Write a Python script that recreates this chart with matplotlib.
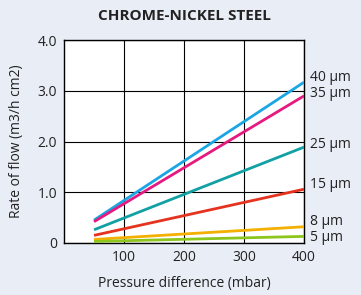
import matplotlib.pyplot as plt

plt.rcParams['font.family'] = ['Open Sans', 'DejaVu Sans']

pressure = [50, 400]
labels = ['40 µm', '35 µm', '25 µm', '15 µm', '8 µm', '5 µm']
flows = [
    [0.45, 3.17],
    [0.42, 2.90],
    [0.26, 1.89],
    [0.15, 1.06],
    [0.07, 0.32],
    [0.03, 0.13],
]
colors = ['#1ba6e3', '#e5197f', '#11a0a3', '#e5331f', '#f4b000', '#8cc51c']
label_y = [3.27, 2.95, 1.95, 1.15, 0.42, 0.10]

fig = plt.figure(figsize=(3.61, 2.95), dpi=100, facecolor='#e9edf6')
ax = fig.add_axes([0.1773, 0.1763, 0.665, 0.688])
ax.set_facecolor('white')

for flow, color in zip(flows, colors):
    ax.plot(pressure, flow, color=color, lw=2, solid_capstyle='butt', zorder=3)

for lab, y in zip(labels, label_y):
    ax.text(1.025, y / 4.0, lab, transform=ax.transAxes, fontsize=10,
            va='center', ha='left', color='#222222')

ax.set_xlim(0, 400)
ax.set_ylim(0, 4.0)
ax.set_xticks([100, 200, 300, 400])
ax.set_yticks([0, 1, 2, 3, 4])
ax.set_yticklabels(['0', '1.0', '2.0', '3.0', '4.0'])
ax.tick_params(length=0, labelsize=10, colors='#222222', pad=5)
ax.grid(True, color='black', lw=0.8)
ax.set_axisbelow(True)
for s in ax.spines.values():
    s.set_color('black')
    s.set_linewidth(1)

ax.set_xlabel('Pressure difference (mbar)', fontsize=10, color='#222222', labelpad=8)
ax.set_ylabel('Rate of flow (m3/h cm2)', fontsize=10, color='#222222', labelpad=10)
fig.text(0.512, 0.945, 'CHROME-NICKEL STEEL', fontsize=11, fontweight='bold',
         ha='center', va='center', color='#222222')

fig.savefig('out.png', dpi=100, facecolor=fig.get_facecolor())
